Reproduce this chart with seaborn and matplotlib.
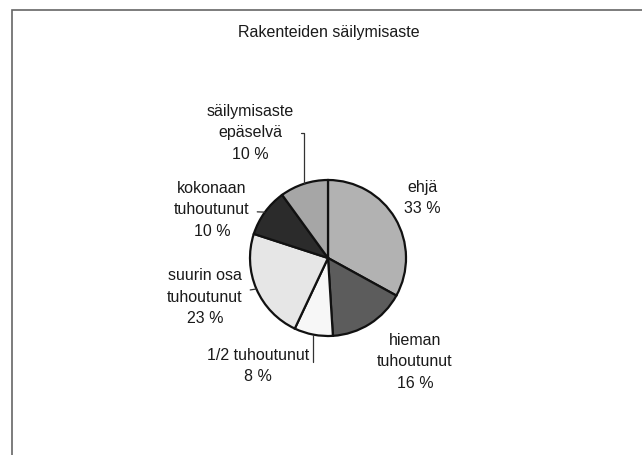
import numpy as np
import matplotlib
matplotlib.use("Agg")
import matplotlib.pyplot as plt
import seaborn as sns

# data
title = "Rakenteiden säilymisaste"
categories = ["ehjä", "hieman\ntuhoutunut", "1/2 tuhoutunut", "suurin osa\ntuhoutunut",
              "kokonaan\ntuhoutunut", "säilymisaste\nepäselvä"]
shares = [33, 16, 8, 23, 10, 10]
greys = ["#b2b2b2", "#5c5c5c", "#f7f7f7", "#e6e6e6", "#2b2b2b", "#a6a6a6"]

W, H = 642, 455

sns.set_theme(style="white")
plt.rcParams["font.family"] = ["Liberation Sans", "DejaVu Sans"]

fig = plt.figure(figsize=(W / 100, H / 100), dpi=100)
ax = fig.add_axes([0, 0, 1, 1])

# scanned page frame
fig.patches.append(plt.Rectangle((12 / W, -0.1), 1.2, 0.1 + (H - 10) / H,
                                 transform=fig.transFigure, fill=False,
                                 edgecolor="#666666", linewidth=1.2))

cx, cy, r = 328, H - 258, 78
wedges, _ = ax.pie(shares, colors=greys, startangle=90, counterclock=False,
                   center=(cx, cy), radius=r, frame=True,
                   wedgeprops=dict(edgecolor="#111111", linewidth=1.6))
ax.set_xlim(0, W)
ax.set_ylim(0, H)
ax.set_aspect("equal")
ax.axis("off")

ax.text(329, H - 32, title, ha="center", va="center", fontsize=11.5, color="#1a1a1a")

# label centres (pixels) and connector style for each slice
label_pos = [(422, 198), (415, 362), (258, 366), (205, 297), (212, 210), (250, 133)]
connectors = [None,
              None,
              "angle,angleA=0,angleB=90,rad=0",
              "arc3,rad=0",
              "arc3,rad=0",
              "angle,angleA=0,angleB=90,rad=0"]

for w, name, val, (tx, ty), conn in zip(wedges, categories, shares, label_pos, connectors):
    label = f"{name}\n{val} %"
    mid = np.deg2rad((w.theta1 + w.theta2) / 2)
    px, py = cx + r * np.cos(mid), cy + r * np.sin(mid)
    if conn is None:
        ax.text(tx, H - ty, label, ha="center", va="center", fontsize=11.5,
                color="#1a1a1a", linespacing=1.55)
    else:
        ax.annotate(label, xy=(px, py), xytext=(tx, H - ty), ha="center", va="center",
                    fontsize=11.5, color="#1a1a1a", linespacing=1.55,
                    arrowprops=dict(arrowstyle="-", color="#333333", lw=0.9,
                                    connectionstyle=conn, shrinkA=3, shrinkB=0))

fig.savefig("out.png", dpi=100, facecolor="white")
